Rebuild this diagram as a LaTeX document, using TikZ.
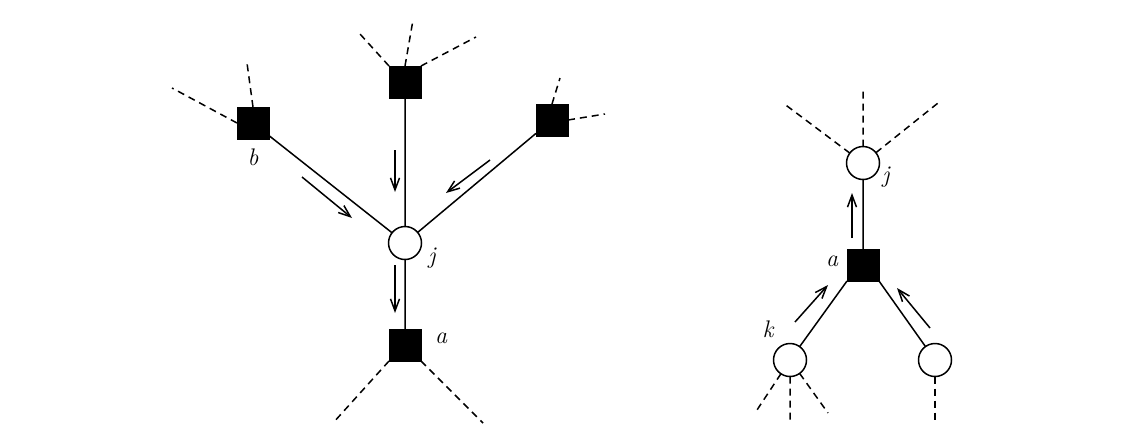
\documentclass[tikz,border=0pt]{standalone}
\usetikzlibrary{arrows.meta}
\begin{document}
\begin{tikzpicture}[x=1pt,y=-1pt,
 sq/.style={draw,fill=black,minimum size=32pt,inner sep=0,outer sep=0},
 ci/.style={draw,fill=white,circle,minimum size=33pt,inner sep=0,outer sep=0,line width=1.5pt},
 ed/.style={line width=1.5pt},
 da/.style={line width=1.5pt,dash pattern=on 7pt off 5pt},
 ar/.style={line width=1.5pt,-{Straight Barb[length=12pt,width=9pt]}},
 lab/.style={font=\fontsize{24}{24}\selectfont\itshape}]
\useasboundingbox (0,0) rectangle (1126,437);
% left
\node[sq] (t) at (405,82) {};
\node[sq] (b) at (253,123) {};
\node[sq] (r) at (552,120) {};
\node[ci] (j) at (405,243) {};
\node[sq] (a) at (405,345) {};
\draw[ed] (t)--(j) (b)--(j) (r)--(j) (j)--(a);
\node[lab] at (432,258) {j};
\node[lab] at (441,338) {a};
\node[lab] at (253,157) {b};
\coordinate (t1) at (360,34); \coordinate (t2) at (413,20); \coordinate (t3) at (476,37);
\coordinate (b1) at (172,88); \coordinate (b2) at (247,63);
\coordinate (r1) at (560,78); \coordinate (r2) at (605,114);
\coordinate (a1) at (333,423); \coordinate (a2) at (483,423);
\draw[da] (t.north west)--(t1) (t.north)--(t2) (t.north east)--(t3);
\draw[da] (b.west)--(b1) (b.north)--(b2);
\draw[da] (r.north)--(r1) (r.east)--(r2);
\draw[da] (a.south west)--(a1) (a.south east)--(a2);
\coordinate (p1) at (395,150); \coordinate (p2) at (395,192);
\coordinate (p3) at (302,177); \coordinate (p4) at (352,218);
\coordinate (p5) at (490,160); \coordinate (p6) at (446,193);
\coordinate (p7) at (395,265); \coordinate (p8) at (395,313);
\draw[ar] (p1)--(p2); \draw[ar] (p3)--(p4); \draw[ar] (p5)--(p6); \draw[ar] (p7)--(p8);
% right
\node[ci] (j2) at (863,163) {};
\node[sq] (a3) at (863,265) {};
\node[ci] (k) at (790,360) {};
\node[ci] (m) at (935,360) {};
\draw[ed] (j2)--(a3) (a3.south west)--(k) (a3.south east)--(m);
\node[lab] at (886,177) {j};
\node[lab] at (832,261) {a};
\node[lab] at (768,329) {k};
\coordinate (j1) at (783,103); \coordinate (j3) at (863,90); \coordinate (j4) at (938,103);
\draw[da] (j2)--(j1) (j2)--(j3) (j2)--(j4);
\coordinate (k1) at (755,413); \coordinate (k2) at (790,420); \coordinate (k3) at (828,413);
\draw[da] (k)--(k1) (k)--(k2) (k)--(k3);
\coordinate (m1) at (935,422);
\draw[da] (m)--(m1);
\coordinate (q1) at (852,238); \coordinate (q2) at (852,193);
\coordinate (q3) at (795,322); \coordinate (q4) at (828,285);
\coordinate (q5) at (930,328); \coordinate (q6) at (897,288);
\draw[ar] (q1)--(q2); \draw[ar] (q3)--(q4); \draw[ar] (q5)--(q6);
\end{tikzpicture}
\end{document}
